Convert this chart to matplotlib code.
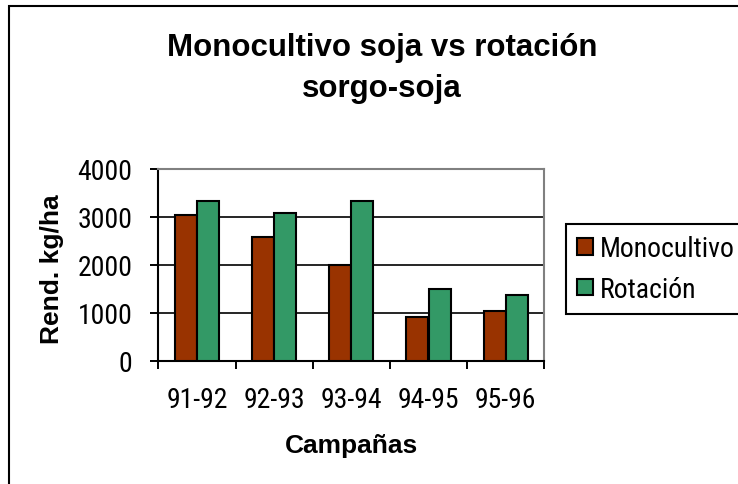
import matplotlib
matplotlib.use("Agg")
import matplotlib.pyplot as plt
import numpy as np
from matplotlib.patches import Rectangle
from matplotlib import font_manager

# ---- data ----
campanas = ["91-92", "92-93", "93-94", "94-95", "95-96"]
monocultivo = [3040, 2580, 2000, 920, 1040]
rotacion = [3330, 3080, 3330, 1500, 1380]
yticks = [0, 1000, 2000, 3000, 4000]
title_text = "Monocultivo soja vs rotación\nsorgo-soja"
ylabel_text = "Rend. kg/ha"
xlabel_text = "Campañas"
series_names = ["Monocultivo", "Rotación"]

names = {f.name for f in font_manager.fontManager.ttflist}
cond = [n for n in ["Roboto Condensed", "Archivo Narrow", "PT Sans Narrow"] if n in names][:1]
REG = cond + ["Liberation Sans", "DejaVu Sans"]
BOLD = ["Liberation Sans", "DejaVu Sans"]
plt.rcParams["font.family"] = REG
TS = 20 if cond else 17.5  # tick / legend font size

W, H = 738, 485
fig = plt.figure(figsize=(W / 100, H / 100), dpi=100)
fig.patch.set_facecolor("white")

# plot area in pixels
L, R, T, B = 158.3, 544.3, 170.0, 361.7
ax = fig.add_axes([L / W, 1 - B / H, (R - L) / W, (B - T) / H])

x = np.arange(len(campanas))
bw = 1 / 3.5
c_mono = "#993300"
c_rot = "#339966"
ax.bar(x - bw / 2, monocultivo, bw, color=c_mono, edgecolor="black", linewidth=1.5,
       label=series_names[0], zorder=3)
ax.bar(x + bw / 2, rotacion, bw, color=c_rot, edgecolor="black", linewidth=1.5,
       label=series_names[1], zorder=3)

ax.set_xlim(-0.5, len(campanas) - 0.5)
ax.set_ylim(0, 4000)

# y axis
ax.set_yticks(yticks)
ax.set_yticklabels([str(v) for v in yticks])
ax.tick_params(axis="y", direction="out", length=6, width=1.4, pad=12.5,
               labelsize=TS, colors="black")
ax.yaxis.grid(True, color="black", linewidth=1.2)
ax.set_axisbelow(True)

# x axis: ticks at category boundaries, labels at centers
ax.set_xticks(np.arange(len(campanas) + 1) - 0.5)
ax.set_xticklabels([""] * (len(campanas) + 1))
ax.set_xticks(x, minor=True)
ax.set_xticklabels(campanas, minor=True)
ax.tick_params(axis="x", which="major", direction="out", length=6, width=1.4)
ax.tick_params(axis="x", which="minor", length=0, pad=18.5, labelsize=TS)

for s in ["left", "bottom"]:
    ax.spines[s].set_color("black")
    ax.spines[s].set_linewidth(1.5)
for s in ["top", "right"]:
    ax.spines[s].set_color("#808080")
    ax.spines[s].set_linewidth(1.5)

ax.set_ylabel(ylabel_text, fontsize=19, fontweight="bold", family=BOLD, va="center")
ax.yaxis.set_label_coords((52 - L) / (R - L), (B - 269) / (B - T))
ax.set_xlabel(xlabel_text, fontsize=19, fontweight="bold", family=BOLD)
ax.xaxis.set_label_coords(0.5, (B - 434) / (B - T))

fig.text(382 / W, 1 - 33 / H, title_text, ha="center", va="top", fontsize=22.5,
         fontweight="bold", family=BOLD, linespacing=1.5)

leg = fig.legend(loc="upper left", bbox_to_anchor=(566 / W, 1 - 225 / H),
                 bbox_transform=fig.transFigure, fontsize=TS, frameon=True,
                 fancybox=False, shadow=False, framealpha=1, edgecolor="black",
                 borderpad=0.4, borderaxespad=0, handlelength=0.57, handleheight=0.54,
                 handletextpad=0.25, labelspacing=0.5)
leg.get_frame().set_linewidth(1.5)

# outer chart border (cut off at right and bottom)
fig.patches.append(Rectangle((9 / W, -1), 2, 2 - 7 / H, transform=fig.transFigure,
                             fill=False, edgecolor="black", linewidth=1.5))

fig.savefig("out.png", dpi=100)
